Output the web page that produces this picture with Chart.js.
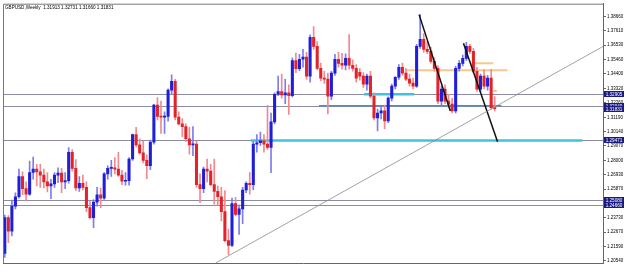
<!DOCTYPE html>
<html>
<head>
<meta charset="utf-8">
<script src="https://cdn.jsdelivr.net/npm/chart.js@4.4.1/dist/chart.umd.min.js"></script>
<style>
  html, body { margin: 0; padding: 0; background: #fff; }
  #wrap { width: 625px; height: 274px; position: relative; }
</style>
</head>
<body>
<div id="wrap"><canvas id="myChart"></canvas></div>
<script>
const title = 'GBPUSD,Weekly  1.31913 1.32731 1.31660 1.31831';

const dateTicks = ['29 Oct 2023', '24 Dec 2023', '18 Feb 2024', '14 Apr 2024', '9 Jun 2024', '4 Aug 2024',
  '29 Sep 2024', '24 Nov 2024', '19 Jan 2025', '16 Mar 2025', '11 May 2025', '6 Jul 2025',
  '31 Aug 2025', '26 Oct 2025', '21 Dec 2025', '15 Feb 2026', '12 Apr 2026', '7 Jun 2026'];

const yTicks = [1.20540, 1.21590, 1.22670, 1.23730, 1.24800, 1.25870, 1.26930, 1.28000, 1.29070,
  1.30140, 1.31190, 1.32260, 1.33320, 1.34400, 1.35460, 1.36530, 1.37610, 1.38660];

// weekly candles
const opens = [1.2110,1.2375,1.2275,1.2460,1.2530,1.2680,1.2590,1.2550,1.2710,1.2735,
  1.2715,1.2690,1.2640,1.2610,1.2625,1.2690,1.2705,1.2640,1.2650,1.2860,
  1.2740,1.2595,1.2630,1.2600,1.2450,1.2375,1.2490,1.2545,1.2520,1.2700,
  1.2740,1.2745,1.2735,1.2690,1.2645,1.2650,1.2810,1.2990,1.2915,1.2855,
  1.2800,1.2760,1.2935,1.3210,1.3125,1.3120,1.3125,1.3320,1.3385,1.3120,
  1.3070,1.3050,1.2960,1.2915,1.2920,1.2620,1.2590,1.2735,1.2720,1.2620,
  1.2570,1.2530,1.2420,1.2205,1.2170,1.2480,1.2400,1.2440,1.2580,1.2630,
  1.2620,1.2920,1.2930,1.2945,1.2920,1.2895,1.3085,1.3290,1.3310,1.3285,
  1.3300,1.3280,1.3540,1.3480,1.3549,1.3565,1.3424,1.3711,1.3645,1.3482,
  1.3409,1.3402,1.3276,1.3446,1.3549,1.3519,1.3505,1.3556,1.3505,1.3482,
  1.3453,1.3424,1.3365,1.3424,1.3276,1.3114,1.3151,1.3166,1.3092,1.3261,
  1.3350,1.3416,1.3490,1.3446,1.3402,1.3372,1.3350,1.3645,1.3696,1.3622,
  1.3608,1.3534,1.3482,1.3239,1.3328,1.3239,1.3217,1.3166,1.3482,1.3519,
  1.3556,1.3645,1.3608,1.3460,1.3328,1.3424,1.3350,1.3409,1.31913];
const highs = [1.2395,1.2390,1.2505,1.2560,1.2735,1.2715,1.2640,1.2795,1.2825,1.2770,
  1.2770,1.2735,1.2710,1.2660,1.2710,1.2745,1.2740,1.2710,1.2895,1.2880,
  1.2805,1.2680,1.2690,1.2640,1.2495,1.2510,1.2600,1.2595,1.2710,1.2760,
  1.2800,1.2820,1.2860,1.2725,1.2710,1.2820,1.2995,1.3045,1.2960,1.2940,
  1.2840,1.2950,1.3215,1.3266,1.3240,1.3160,1.3330,1.3434,1.3400,1.3160,
  1.3110,1.3070,1.3045,1.3050,1.2940,1.2700,1.2750,1.2810,1.2770,1.2810,
  1.2610,1.2600,1.2575,1.2290,1.2520,1.2525,1.2470,1.2600,1.2640,1.2710,
  1.2940,1.2990,1.3010,1.2990,1.3207,1.3150,1.3300,1.3424,1.3440,1.3400,
  1.3360,1.3560,1.3595,1.3585,1.3622,1.3600,1.3730,1.3792,1.3680,1.3520,
  1.3460,1.3446,1.3460,1.3586,1.3600,1.3593,1.3590,1.3733,1.3545,1.3510,
  1.3480,1.3450,1.3440,1.3460,1.3300,1.3180,1.3200,1.3210,1.3270,1.3365,
  1.3420,1.3510,1.3520,1.3480,1.3440,1.3410,1.3660,1.3880,1.3740,1.3681,
  1.3640,1.3560,1.3500,1.3350,1.3360,1.3290,1.3260,1.3497,1.3540,1.3580,
  1.3674,1.3660,1.3630,1.3490,1.3440,1.3470,1.3430,1.3475,1.32731];
const lows = [1.2080,1.2190,1.2240,1.2440,1.2520,1.2545,1.2500,1.2540,1.2660,1.2610,
  1.2600,1.2595,1.2565,1.2515,1.2600,1.2635,1.2560,1.2590,1.2630,1.2720,
  1.2575,1.2570,1.2580,1.2420,1.2365,1.2300,1.2460,1.2450,1.2510,1.2660,
  1.2680,1.2700,1.2680,1.2620,1.2615,1.2615,1.2800,1.2900,1.2845,1.2780,
  1.2665,1.2730,1.2920,1.3100,1.3000,1.3000,1.3090,1.3290,1.3100,1.3060,
  1.2975,1.2940,1.2845,1.2835,1.2600,1.2487,1.2560,1.2640,1.2610,1.2475,
  1.2470,1.2350,1.2195,1.2100,1.2160,1.2390,1.2250,1.2330,1.2560,1.2550,
  1.2580,1.2860,1.2910,1.2860,1.2880,1.2708,1.3070,1.3280,1.3260,1.3220,
  1.3140,1.3270,1.3450,1.3465,1.3490,1.3400,1.3380,1.3622,1.3470,1.3390,
  1.3370,1.3144,1.3250,1.3430,1.3490,1.3475,1.3470,1.3475,1.3460,1.3380,
  1.3395,1.3340,1.3320,1.3260,1.3100,1.3018,1.3107,1.3033,1.3080,1.3240,
  1.3330,1.3400,1.3430,1.3390,1.3350,1.3330,1.3340,1.3630,1.3600,1.3590,
  1.3520,1.3460,1.3220,1.3210,1.3220,1.3190,1.3151,1.3151,1.3460,1.3500,
  1.3540,1.3590,1.3450,1.3310,1.3310,1.3330,1.3320,1.3180,1.31660];
const closes = [1.2375,1.2275,1.2460,1.2530,1.2680,1.2590,1.2550,1.2710,1.2735,1.2715,
  1.2690,1.2640,1.2610,1.2625,1.2690,1.2705,1.2640,1.2650,1.2860,1.2740,
  1.2595,1.2630,1.2600,1.2450,1.2375,1.2490,1.2545,1.2520,1.2700,1.2740,
  1.2745,1.2735,1.2690,1.2645,1.2650,1.2810,1.2990,1.2915,1.2855,1.2800,
  1.2760,1.2935,1.3210,1.3125,1.3120,1.3125,1.3320,1.3385,1.3120,1.3070,
  1.3050,1.2960,1.2915,1.2920,1.2620,1.2590,1.2735,1.2720,1.2620,1.2570,
  1.2530,1.2420,1.2205,1.2170,1.2480,1.2400,1.2440,1.2580,1.2630,1.2620,
  1.2920,1.2930,1.2945,1.2920,1.2895,1.3085,1.3290,1.3310,1.3285,1.3300,
  1.3280,1.3540,1.3480,1.3549,1.3565,1.3424,1.3711,1.3645,1.3482,1.3409,
  1.3402,1.3276,1.3446,1.3549,1.3519,1.3505,1.3556,1.3505,1.3482,1.3409,
  1.3424,1.3365,1.3424,1.3276,1.3114,1.3151,1.3166,1.3092,1.3261,1.3350,
  1.3416,1.3490,1.3446,1.3402,1.3372,1.3350,1.3645,1.3696,1.3622,1.3608,
  1.3534,1.3482,1.3239,1.3328,1.3239,1.3217,1.3166,1.3482,1.3519,1.3556,
  1.3645,1.3608,1.3460,1.3328,1.3424,1.3350,1.3409,1.3191,1.31831];

// horizontal levels and price tags on the axis
const levels = [1.32905, 1.32040, 1.29471, 1.25080, 1.24660];
const priceTags = [1.32905, 1.32040, 1.31831, 1.29471, 1.25080, 1.24660];

// drawn objects, in bar index / price
const zones = [
  { from: 69.3, to: 162.7, value: 1.29471, color: '#3fc3dc', width: 2.5 },
  { from: 101.2, to: 115.3, value: 1.32905, color: '#3fc3dc', width: 2.5 },
  { from: 88.5, to: 139.9, value: 1.32040, color: '#4d8fc4', width: 1.5 },
  { from: 113.0, to: 141.6, value: 1.34680, color: '#f6c88e', width: 2 },
  { from: 131.4, to: 137.6, value: 1.35190, color: '#f6c88e', width: 2 },
  { from: 137.6, to: 138.6, value: 1.33130, color: '#f6c88e', width: 2 }
];
const trendLines = [
  { x1: 116.7, y1: 1.3880, x2: 125.5, y2: 1.3166, color: '#111', width: 1.5 },
  { x1: 129.2, y1: 1.3667, x2: 138.8, y2: 1.2937, color: '#111', width: 1.5 },
  { x1: 59.4, y1: 1.2039, x2: 168.5, y2: 1.3644, color: '#8a8a8a', width: 0.8 }
];

const slots = 169;
const categories = Array.from({ length: slots }, (_, i) => String(i));
const upColor = '#1f1fd8', downColor = '#e3232a';
const upWick = '#7d7ded', downWick = '#ef8a8e';

const bodies = categories.map((_, i) => i < closes.length ? [opens[i], closes[i]] : null);
const wicks = categories.map((_, i) => i < closes.length ? [lows[i], highs[i]] : null);
const bodyColors = categories.map((_, i) => closes[i] >= opens[i] ? upColor : downColor);
const wickColors = categories.map((_, i) => closes[i] >= opens[i] ? upWick : downWick);

const FONT = 'Liberation Sans';

const overlay = {
  id: 'overlay',
  beforeDatasetsDraw(chart) {
    const { ctx, chartArea: a, scales: { x, y } } = chart;
    ctx.save();
    ctx.beginPath();
    ctx.rect(a.left, a.top, a.right - a.left, a.bottom - a.top);
    ctx.clip();
    ctx.strokeStyle = '#8b8ba3';
    ctx.lineWidth = 1;
    levels.forEach(v => {
      const py = Math.round(y.getPixelForValue(v)) + 0.5;
      ctx.beginPath();
      ctx.moveTo(a.left, py);
      ctx.lineTo(a.right, py);
      ctx.stroke();
    });
    zones.forEach(z => {
      const py = y.getPixelForValue(z.value);
      ctx.strokeStyle = z.color;
      ctx.lineWidth = z.width;
      ctx.beginPath();
      ctx.moveTo(x.getPixelForValue(z.from), py);
      ctx.lineTo(x.getPixelForValue(z.to), py);
      ctx.stroke();
    });
    ctx.restore();
  },
  afterDatasetsDraw(chart) {
    const { ctx, chartArea: a, scales: { x, y } } = chart;
    ctx.save();
    ctx.beginPath();
    ctx.rect(a.left, a.top, a.right - a.left, a.bottom - a.top);
    ctx.clip();
    trendLines.forEach(l => {
      ctx.strokeStyle = l.color;
      ctx.lineWidth = l.width;
      ctx.beginPath();
      ctx.moveTo(x.getPixelForValue(l.x1), y.getPixelForValue(l.y1));
      ctx.lineTo(x.getPixelForValue(l.x2), y.getPixelForValue(l.y2));
      ctx.stroke();
    });
    ctx.restore();
  },
  afterDraw(chart) {
    const { ctx, chartArea: a, scales: { y } } = chart;
    ctx.save();
    // frame top / left
    ctx.strokeStyle = '#777';
    ctx.lineWidth = 1;
    ctx.beginPath();
    ctx.moveTo(a.left + 0.5, a.bottom);
    ctx.lineTo(a.left + 0.5, a.top + 0.5);
    ctx.lineTo(a.right, a.top + 0.5);
    ctx.stroke();
    // title
    ctx.fillStyle = '#000';
    ctx.font = '4.6px "' + FONT + '"';
    ctx.textBaseline = 'top';
    ctx.textAlign = 'left';
    ctx.fillText(title, a.left + 2, a.top + 2);
    // price tags
    ctx.textAlign = 'center';
    ctx.textBaseline = 'middle';
    priceTags.forEach(v => {
      const py = Math.round(y.getPixelForValue(v));
      ctx.fillStyle = '#1a1a84';
      ctx.fillRect(a.right + 1, py - 3, 20, 6);
      ctx.fillStyle = '#fff';
      ctx.fillText(v.toFixed(5), a.right + 11, py + 0.3);
    });
    ctx.restore();
  }
};

new Chart(document.getElementById('myChart'), {
  type: 'bar',
  data: {
    labels: categories,
    datasets: [
      { label: 'body', data: bodies, backgroundColor: bodyColors, barThickness: 2.4,
        grouped: false, minBarLength: 1, order: 1 },
      { label: 'wick', data: wicks, backgroundColor: wickColors, barThickness: 1,
        grouped: false, order: 2 }
    ]
  },
  options: {
    responsive: true,
    maintainAspectRatio: false,
    animation: false,
    layout: { padding: { left: 3, top: 2, right: 0, bottom: 0 } },
    plugins: { legend: { display: false }, tooltip: { enabled: false } },
    scales: {
      x: {
        grid: { display: false },
        border: { display: true, color: '#666' },
        afterFit(scale) { scale.height = 11; },
        ticks: {
          autoSkip: false, maxRotation: 0, minRotation: 0, align: 'start', labelOffset: -3, padding: 3,
          color: '#000', font: { family: FONT, size: 4.8 },
          callback: (v, i) => (i % 8 === 0 && dateTicks[i / 8]) ? dateTicks[i / 8] : ''
        }
      },
      y: {
        position: 'right',
        min: 1.2039, max: 1.3961,
        afterBuildTicks(scale) { scale.ticks = yTicks.map(v => ({ value: v })); },
        afterFit(scale) { scale.width = 22; },
        grid: { drawOnChartArea: false, drawTicks: true, tickLength: 3, color: '#666' },
        border: { display: true, color: '#666' },
        ticks: {
          padding: 1, color: '#000', font: { family: FONT, size: 4.5 },
          callback: v => Number(v).toFixed(5)
        }
      }
    }
  },
  plugins: [overlay]
});
</script>
</body>
</html>
